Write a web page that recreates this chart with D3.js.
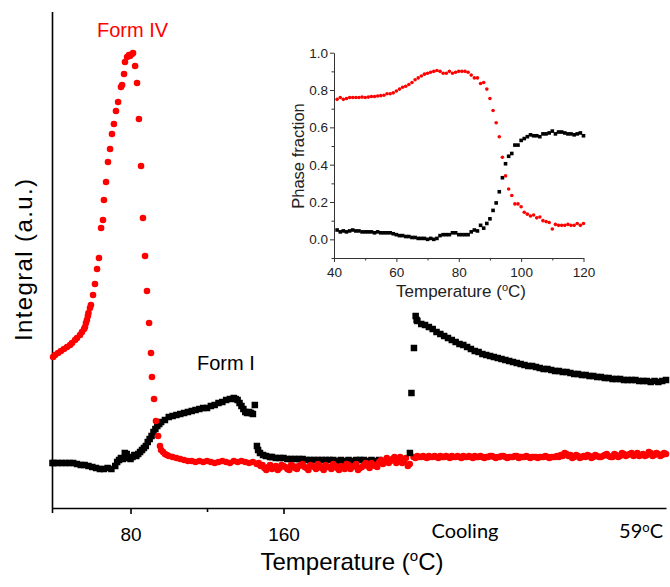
<!DOCTYPE html>
<html><head><meta charset="utf-8">
<script src="https://cdn.jsdelivr.net/npm/d3@7"></script>
<style>
body{margin:0;background:#fff}
svg{display:block;background:#fff}
text{font-family:"Liberation Sans",Arial,sans-serif}
</style>
</head><body>
<svg id="chart" width="670" height="587"></svg>
<script>
// ---------- Main chart data: [temperature axis position (°C), integral (a.u.)] ----------
const formIVHeating = [
 [39.5,153],[40.5,155],[42.1,157],[43.6,159],[45.2,161],[46.8,163],[48.4,165],[49.4,167],[51.0,170],[52.0,172],
 [53.6,175],[54.6,178],[55.7,181],[56.2,183],[56.7,187],[57.2,190],[57.7,194],[58.0,197],[58.8,202],[59.3,205],
 [60.4,215],[61.4,226],[62.5,241],[63.5,252],[64.6,282],[65.6,290],[66.1,310],[67.2,328],[68.2,348],[69.3,361],
 [70.3,376],[71.3,386],[72.4,399],[73.5,408],[75.0,423],[75.6,425],[76.6,436],[77.1,448],[78.2,453],[79.2,455],
 [79.7,454],[80.8,456],[81.3,457],[82.4,444],[83.4,427],[84.4,391],[85.5,344],[86.5,292],[87.6,254],[88.6,219],
 [89.7,187],[90.7,157],[91.2,133],[92.3,111],[93.3,89],[94.4,74],[95.4,64],
 [96,60],[97,58],[98,56],[99,55],[100,54],[102,53],[104,52],[106,51],[108,50],[110,49],[112,49],[114,48],
 [116,49],[118,48],[120,49],[122,48],[124,47],[126,48],[128,49],[130,48],[132,47],[134,49],[136,48],[138,49],
 [140,48],[142,47],[144,48],[146,46],[148,44],[150,42],[152,43],[154,41],[156,44],[158,42],[160,44],[162,41],
 [164,45],[166,42],[168,44],[170,46],[172,42],[174,45],[176,43],[178,46],[180,42],[182,45],[184,43],[186,46],
 [188,42],[190,44],[192,41],[194,45],[196,43],[198,46],[200,42],[202,45],[204,44],[206,47],[208,44],[210,48],
 [212,46],[214,52],[216,49],[218,53],[220,50],[222,47],[224,52],[226,46]
];
const formIVHeatingScatter = [
 [147,47],[149,45],[151,40],[153,45],[155,42],[157,40],[159,45],[161,43],[163,40],[165,44],[167,41],[169,45],
 [171,43],[173,40],[175,44],[177,41],[179,44],[181,40],[183,43],[185,41],[187,44],[189,40],[191,43],[193,46],
 [195,41],[197,44],[199,40],[201,43],[203,47],[205,42],[207,45],[209,43],[211,50],[213,49],[215,47],[217,51],
 [219,47],[221,53],[223,49],[225,44]
];
const formIVCooling = [
 [228,53],[230,54],[232,53],[234,53],[236,54],[238,53],[240,53],[242,54],[244,53],[246,53],[248,54],[250,53],
 [252,53],[254,54],[256,53],[258,53],[260,54],[262,53],[264,53],[266,53],[268,54],[270,53],[272,53],[274,54],
 [276,53],[278,53],[280,53],[282,54],[284,53],[286,53],[288,53],[290,53],[292,53],[294,53],[296,53],[298,53],
 [300,53],[302,53],[304,53],[306,54],[308,56],[310,55],[312,53],[314,54],[316,53],[318,53],[320,54],[322,53],
 [324,54],[326,53],[328,55],[330,54],[332,53],[334,55],[336,54],[338,56],[340,55],[342,57],[344,55],[346,54],
 [348,56],[350,55],[352,57],[354,55],[356,56],[358,55],[360,56]
];
const formIVCoolingScatter = [
 [229,52],[231,53],[233,54],[235,52],[237,53],[239,54],[241,52],[243,53],[245,54],[247,52],[249,53],[251,54],
 [253,52],[255,53],[257,54],[259,52],[261,53],[263,54],[265,52],[267,53],[269,54],[271,52],[273,53],[275,54],
 [277,52],[279,53],[281,54],[283,52],[285,53],[287,54],[289,52],[291,53],[293,52],[295,53],[297,54],[299,52],
 [301,53],[303,54],[305,55],[307,57],[309,54],[311,52],[313,55],[315,52],[317,54],[319,55],[321,52],[323,55],
 [325,53],[327,54],[329,56],[331,53],[333,56],[335,53],[337,57],[339,54],[341,56],[343,54],[345,57],[347,55],
 [349,54],[351,58],[353,54],[355,57],[357,54],[359,57]
];
const formIHeating = [
 [39.2,47],[40,47],[42,47],[44,47],[46,47],[48,47],[50,47],[52,46],[54,45],[56,45],[58,44],[60,43],[62,42],
 [64,41],[66,41],[68,42],[70,41],[72,44],[73,48],[74,50],[75,52],[76,51],[77,57],[78,56],[79,52],[80,51],
 [81,53],[82,55],[83,54],[84,56],[85,58],[86,60],[87,62],[88,64],[89,68],[90,71],[91,74],[92,78],[93,81],
 [94,84],[95,86],[96,88],[98,90],[100,93],[102,94],[104,95],[106,96],[108,97],[110,98],[112,99],[114,100],
 [116,101],[118,102],[120,102],[122,104],[124,105],[126,107],[128,108],[130,110],[132,111],[134,112],[135,111],
 [136,110],[137,107],[138,104],[139,101],[140,98],[141,97],[142,98],[143,97],[144,96],[145,105]
];
const formIHeatingLate = [
 [146.1,64],[146.7,60],[147.7,57],[149.3,55],[150.8,54],[152.9,53],[154,53],[156,52],[158,52],[160,52],
 [162,51],[164,51],[166,51],[168,51],[170,51],[172,50],[174,50],[176,50],[178,50],[180,50],[182,50],[184,50],
 [186,50],[188,49],[190,50],[192,49],[194,50],[196,49],[198,50],[200,50],[202,50],[204,49],[206,50],[208,49],[210,50]
];
const formICooling = [
 [226.1,57],[226.9,117],[228.2,162],[229.1,194],[229.6,190],[230,189],[232,186],[234,185],[236,183],[238,181],
 [240,178],[242,176],[244,174],[246,172],[248,170],[250,168],[252,166],[254,165],[256,163],[258,161],[260,159],
 [262,158],[264,156],[266,155],[268,154],[270,153],[272,152],[274,151],[276,150],[278,149],[280,148],[282,147],
 [284,146],[286,145],[288,144],[290,144],[292,143],[294,142],[296,141],[298,141],[300,140],[302,139],[304,139],
 [306,138],[308,138],[310,137],[312,136],[314,136],[316,135],[318,135],[320,134],[322,134],[324,133],[326,133],
 [328,132],[330,132],[332,131],[334,131],[336,131],[338,130],[340,130],[342,130],[344,130],[346,129],[348,129],
 [350,129],[352,128],[354,129],[356,128],[358,129],[360,130]
];
const mainTickValues = [80, 160];
const mainMinorTicks = [120];

// ---------- Inset data: phase fraction vs temperature ----------
const insetTemps = [41,42,43,44,45,46,47,48,49,50,51,52,53,54,55,56,57,58,59,60,61,62,63,64,65,66,67,68,69,70,
 71,72,73,74,75,76,77,78,79,80,81,82,83,84,85,86,87,88,89,90,91,92,93,94,95,96,97,98,99,100,
 101,102,103,104,105,106,107,108,109,110,111,112,113,114,115,116,117,118,119,120];
const insetFormIV = [0.75,0.76,0.75,0.755,0.76,0.76,0.76,0.76,0.762,0.76,0.762,0.765,0.765,0.768,0.77,0.772,0.78,0.78,0.785,0.795,
 0.805,0.815,0.82,0.83,0.84,0.855,0.865,0.875,0.885,0.89,0.895,0.9,0.905,0.9,0.89,0.89,0.9,0.89,0.895,0.9,
 0.9,0.9,0.895,0.88,0.865,0.865,0.835,0.84,0.805,0.755,0.69,0.625,0.55,0.44,0.34,0.27,0.235,0.19,0.19,0.175,
 0.145,0.135,0.125,0.13,0.115,0.12,0.1,0.095,0.09,0.055,0.08,0.075,0.075,0.075,0.08,0.075,0.075,0.085,0.075,0.085];
const insetFormI = [0.05,0.04,0.045,0.04,0.045,0.05,0.045,0.045,0.04,0.04,0.04,0.04,0.035,0.04,0.035,0.035,0.035,0.035,0.03,0.025,
 0.02,0.02,0.015,0.015,0.01,0.01,0.005,0.005,0.005,0.0,0.005,0.0,0.005,0.02,0.025,0.025,0.025,0.035,0.035,0.025,
 0.025,0.025,0.025,0.04,0.05,0.045,0.075,0.06,0.085,0.11,0.155,0.195,0.255,0.33,0.405,0.445,0.46,0.505,0.505,0.53,
 0.54,0.55,0.56,0.555,0.555,0.55,0.565,0.565,0.57,0.58,0.565,0.575,0.575,0.57,0.565,0.565,0.56,0.565,0.57,0.555];
const insetXTicks = [40,60,80,100,120];
const insetXMinor = [50,70,90,110];
const insetYTicks = [0.0,0.2,0.4,0.6,0.8,1.0];
const insetYMinor = [-0.1,0.1,0.3,0.5,0.7,0.9];

// ---------- Drawing ----------
const svg = d3.select("#chart");
const RED = "#ff0000";

const x = d3.scaleLinear().domain([39.2, 360]).range([52.5, 666]);
const y = d3.scaleLinear().domain([0, 498]).range([510, 12]);
const axisY = 508;

// axes
const gx = svg.append("g").attr("transform", `translate(0,${axisY})`)
  .call(d3.axisBottom(x).tickValues(mainTickValues).tickSize(6).tickSizeOuter(0).tickPadding(14).tickFormat(d3.format("d")));
gx.select(".domain").attr("stroke", "#000").attr("stroke-width", 1.6);
gx.selectAll(".tick line").attr("stroke", "#000").attr("stroke-width", 1.6);
gx.selectAll(".tick text").attr("font-size", 19).attr("fill", "#000").style("font-family", '"Liberation Sans",Arial,sans-serif');
const gxm = svg.append("g").attr("transform", `translate(0,${axisY})`)
  .call(d3.axisBottom(x).tickValues(mainMinorTicks).tickSize(4).tickSizeOuter(0).tickFormat(""));
gxm.select(".domain").remove();
gxm.selectAll(".tick line").attr("stroke", "#000").attr("stroke-width", 1.6);

svg.append("line").attr("x1", x(39.2)).attr("x2", x(39.2)).attr("y1", 12).attr("y2", axisY + 5)
  .attr("stroke", "#000").attr("stroke-width", 1.6);

// cooling labels on the x axis
svg.append("text").attr("x", 465).attr("y", 538).attr("text-anchor", "middle")
  .attr("font-size", 20).style("font-family", "Lato, 'Open Sans', sans-serif").text("Cooling");
const t59 = svg.append("text").attr("x", 663).attr("y", 538).attr("text-anchor", "end")
  .attr("font-size", 20).style("font-family", "Lato, 'Open Sans', sans-serif");
t59.append("tspan").text("59");
t59.append("tspan").attr("font-size", 13).attr("dy", -6).text("o");
t59.append("tspan").attr("dy", 6).text("C");

// axis titles
const tx = svg.append("text").attr("x", 352).attr("y", 570).attr("text-anchor", "middle").attr("font-size", 24);
tx.append("tspan").text("Temperature (");
tx.append("tspan").attr("font-size", 15).attr("dy", -9).text("o");
tx.append("tspan").attr("dy", 9).text("C)");
svg.append("text").attr("transform", "translate(32,260) rotate(-90)").attr("text-anchor", "middle")
  .attr("font-size", 24).attr("textLength", 162).attr("lengthAdjust", "spacing").text("Integral (a.u.)");

// series labels
svg.append("text").attr("x", 97).attr("y", 37).attr("font-size", 20).attr("fill", RED).text("Form IV");
svg.append("text").attr("x", 197).attr("y", 370).attr("font-size", 20).attr("fill", "#000").text("Form I");

// markers
function dots(data, r) {
  svg.append("g").selectAll("circle").data(data).join("circle")
    .attr("cx", d => x(d[0])).attr("cy", d => y(d[1])).attr("r", r).attr("fill", RED);
}
function squares(data, s) {
  svg.append("g").selectAll("rect").data(data).join("rect")
    .attr("x", d => x(d[0]) - s / 2).attr("y", d => y(d[1]) - s / 2)
    .attr("width", s).attr("height", s).attr("fill", "#000");
}
squares(formIHeating, 6.5);
squares(formIHeatingLate, 6.5);
dots(formIVHeating, 3.3);
dots(formIVHeatingScatter, 3.3);
dots(formIVCooling, 3.3);
dots(formIVCoolingScatter, 3.3);
squares(formICooling, 6.5);

// ---------- Inset ----------
const ix = d3.scaleLinear().domain([40, 120]).range([334, 583.5]);
const iy = d3.scaleLinear().domain([-0.1, 1.0]).range([258, 52.7]);
const axisColor = "#333";
const inset = svg.append("g");

const igx = inset.append("g").attr("transform", `translate(0,${iy(-0.1)})`)
  .call(d3.axisBottom(ix).tickValues(insetXTicks).tickSize(4).tickSizeOuter(0).tickPadding(5).tickFormat(d3.format("d")));
const igxm = inset.append("g").attr("transform", `translate(0,${iy(-0.1)})`)
  .call(d3.axisBottom(ix).tickValues(insetXMinor).tickSize(2.5).tickSizeOuter(0).tickFormat(""));
igxm.select(".domain").remove();
const igy = inset.append("g").attr("transform", `translate(${ix(40)},0)`)
  .call(d3.axisLeft(iy).tickValues(insetYTicks).tickSize(4).tickSizeOuter(0).tickPadding(2).tickFormat(d3.format(".1f")));
const igym = inset.append("g").attr("transform", `translate(${ix(40)},0)`)
  .call(d3.axisLeft(iy).tickValues(insetYMinor).tickSize(2.5).tickSizeOuter(0).tickFormat(""));
igym.select(".domain").remove();
[igx, igy, igxm, igym].forEach(g => {
  g.selectAll(".domain").attr("stroke", axisColor).attr("stroke-width", 1);
  g.selectAll(".tick line").attr("stroke", axisColor).attr("stroke-width", 1);
  g.selectAll(".tick text").attr("font-size", 13.5).attr("fill", "#222").style("font-family", '"Liberation Sans",Arial,sans-serif');
});

const itx = inset.append("text").attr("x", 461).attr("y", 297).attr("text-anchor", "middle")
  .attr("font-size", 17).attr("fill", "#222");
itx.append("tspan").text("Temperature (");
itx.append("tspan").attr("font-size", 11).attr("dy", -6).text("o");
itx.append("tspan").attr("dy", 6).text("C)");
inset.append("text").attr("transform", "translate(304,156) rotate(-90)").attr("text-anchor", "middle")
  .attr("font-size", 16.5).attr("fill", "#222").text("Phase fraction");

inset.append("g").selectAll("rect").data(insetTemps).join("rect")
  .attr("x", (d, i) => ix(d) - 1.8).attr("y", (d, i) => iy(insetFormI[i]) - 1.8)
  .attr("width", 3.6).attr("height", 3.6).attr("fill", "#000");
inset.append("g").selectAll("circle").data(insetTemps).join("circle")
  .attr("cx", d => ix(d)).attr("cy", (d, i) => iy(insetFormIV[i])).attr("r", 1.8).attr("fill", RED);
</script>
</body></html>
